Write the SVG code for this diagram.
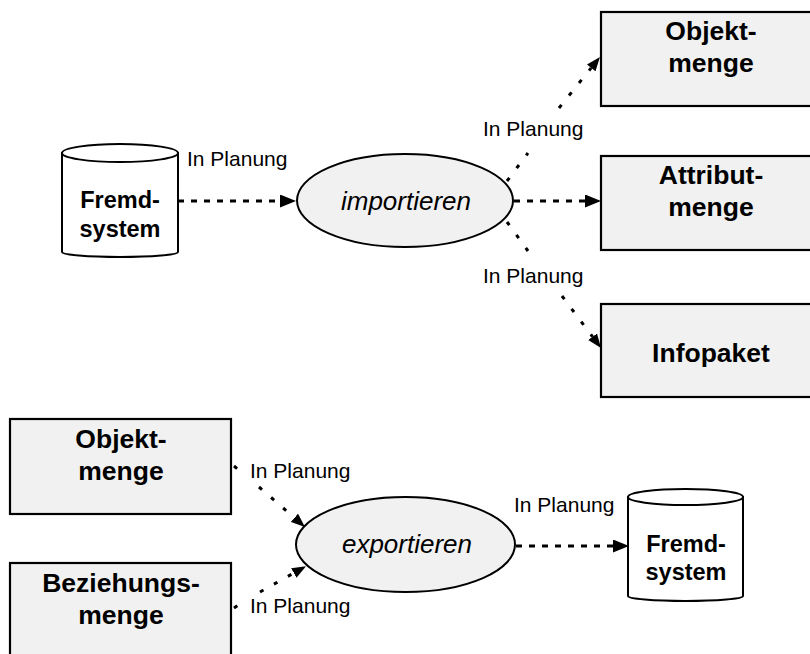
<svg xmlns="http://www.w3.org/2000/svg" width="810" height="654" viewBox="0 0 810 654">
<style>
  .box { fill: #f1f1f1; stroke: #000; stroke-width: 2.2; }
  .ell { fill: #f1f1f1; stroke: #000; stroke-width: 2; }
  .cyl { fill: #fff; stroke: #000; stroke-width: 2; }
  .cyl-line { fill: none; stroke: #000; stroke-width: 2; }
  .bt { font-family: "Liberation Sans", Arial, sans-serif; font-weight: bold; font-size: 26.5px; text-anchor: middle; fill: #000; }
  .ct { font-family: "Liberation Sans", Arial, sans-serif; font-weight: bold; font-size: 23.5px; text-anchor: middle; fill: #000; }
  .et { font-family: "Liberation Sans", Arial, sans-serif; font-style: italic; font-size: 26px; text-anchor: middle; fill: #000; }
  .lbl { font-family: "Liberation Sans", Arial, sans-serif; font-size: 21px; fill: #000; }
  .h { fill: none; stroke: #000; stroke-width: 3; stroke-dasharray: 6 7; }
  .d { fill: none; stroke: #000; stroke-width: 3; stroke-dasharray: 4 12; }
</style>
<defs>
  <marker id="ah" markerUnits="userSpaceOnUse" markerWidth="16" markerHeight="13" refX="0" refY="6.5" orient="auto">
    <path d="M0,0 L16,6.5 L0,13 z" fill="#000"/>
  </marker>
  <marker id="ah2" markerUnits="userSpaceOnUse" markerWidth="14" markerHeight="11" refX="0" refY="5.5" orient="auto">
    <path d="M0,0 L14,5.5 L0,11 z" fill="#000"/>
  </marker>
</defs>
<rect width="810" height="654" fill="#fff"/>

<g id="connectors">
  <path class="h" d="M178,201 H280" marker-end="url(#ah)"/>
  <path class="d" d="M507,181 L528,153"/>
  <path class="d" d="M559,108 L591.2,67.9" marker-end="url(#ah2)"/>
  <path class="h" d="M514,201 H585" marker-end="url(#ah)"/>
  <path class="d" d="M507,222 L528,251"/>
  <path class="d" d="M562,296 L592.6,336.8" marker-end="url(#ah2)"/>
  <path class="d" d="M234,466 L240,471"/>
  <path class="d" d="M259,487 L294.4,517.8" marker-end="url(#ah2)"/>
  <path class="d" d="M234,608 L240,604"/>
  <path class="d" d="M260,592 L293.8,573" marker-end="url(#ah2)"/>
  <path class="h" d="M516,546 H613" marker-end="url(#ah)"/>
  <text class="lbl" x="187" y="166">In Planung</text>
  <text class="lbl" x="483" y="136">In Planung</text>
  <text class="lbl" x="483" y="283">In Planung</text>
  <text class="lbl" x="250" y="478">In Planung</text>
  <text class="lbl" x="250" y="613">In Planung</text>
  <text class="lbl" x="514" y="512">In Planung</text>
</g>

<g id="fremdsystem1">
  <path class="cyl" d="M62,153 V252 A58,5 0 0 0 178,252 V153 z"/>
  <ellipse class="cyl" cx="120" cy="153" rx="58" ry="9"/>
  <text class="ct" x="120" y="208">Fremd-</text>
  <text class="ct" x="120" y="237">system</text>
</g>

<g id="importieren">
  <ellipse class="ell" cx="405" cy="200.5" rx="108" ry="46.5"/>
  <text class="et" x="406" y="210">importieren</text>
</g>

<g id="objektmenge1">
  <rect class="box" x="601" y="12" width="221" height="94"/>
  <text class="bt" x="711" y="40">Objekt-</text>
  <text class="bt" x="711" y="72">menge</text>
</g>

<g id="attributmenge">
  <rect class="box" x="601" y="156" width="221" height="94"/>
  <text class="bt" x="711" y="184">Attribut-</text>
  <text class="bt" x="711" y="216">menge</text>
</g>

<g id="infopaket">
  <rect class="box" x="601" y="304" width="221" height="93"/>
  <text class="bt" x="711" y="362">Infopaket</text>
</g>

<g id="objektmenge2">
  <rect class="box" x="10" y="419" width="221" height="95"/>
  <text class="bt" x="121" y="448">Objekt-</text>
  <text class="bt" x="121" y="480">menge</text>
</g>

<g id="beziehungsmenge">
  <rect class="box" x="10" y="563" width="221" height="96"/>
  <text class="bt" x="121" y="592">Beziehungs-</text>
  <text class="bt" x="121" y="624">menge</text>
</g>

<g id="exportieren">
  <ellipse class="ell" cx="405.5" cy="544.5" rx="109.5" ry="47.5"/>
  <text class="et" x="407" y="553">exportieren</text>
</g>

<g id="fremdsystem2">
  <path class="cyl" d="M628,497 V596 A57.5,5 0 0 0 743,596 V497 z"/>
  <ellipse class="cyl" cx="685.5" cy="497" rx="57.5" ry="8"/>
  <text class="ct" x="686" y="552">Fremd-</text>
  <text class="ct" x="686" y="580">system</text>
</g>
</svg>
